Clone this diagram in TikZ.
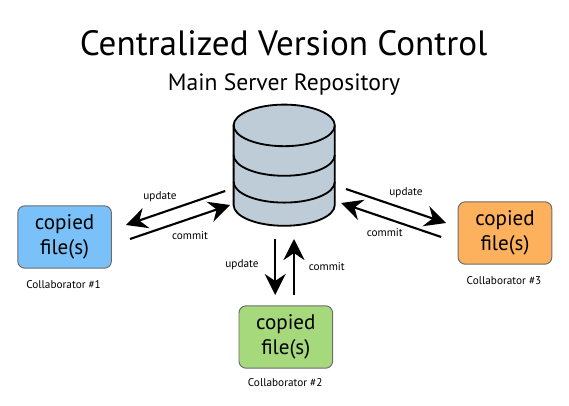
\documentclass[tikz,border=0pt]{standalone}
\usepackage{fontspec}
\setmainfont{PT Sans}
\usetikzlibrary{arrows.meta}
\definecolor{repogray}{RGB}{189,204,214}
\definecolor{fileblue}{RGB}{122,193,250}
\definecolor{filegreen}{RGB}{165,217,124}
\definecolor{fileorange}{RGB}{253,177,93}
\tikzset{
  filebox/.style={draw=gray!85!black, line width=0.7pt, rounded corners=5pt, minimum width=2.34cm, minimum height=1.56cm, align=center, inner sep=0pt, font=\fontsize{15}{18}\selectfont},
  smalllabel/.style={font=\fontsize{8}{10}\selectfont},
  flow/.style={line width=1.5pt, -{Stealth[length=15pt, width=15pt, inset=5pt]}}
}
\begin{document}
\begin{tikzpicture}
  \useasboundingbox (0, 0) rectangle (14.225, 10.125);

  \node[font=\fontsize{25}{30}\selectfont] (title) at (7.09, 9.05) {Centralized Version Control};
  \node[font=\fontsize{16.8}{20}\selectfont] (subtitle) at (7.1, 8.02) {Main Server Repository};

  % Repository
  \draw[line width=1.3pt, fill=repogray] (5.84, 6.99) -- (5.84, 5.0) arc[start angle=180, end angle=360, x radius=1.265, y radius=0.52] -- (8.37, 6.99) arc[start angle=0, end angle=180, x radius=1.265, y radius=0.52] -- cycle;
  \draw[line width=1.3pt] (5.84, 6.99) arc[start angle=180, end angle=360, x radius=1.265, y radius=0.52];
  \draw[line width=1.3pt] (5.84, 6.25) arc[start angle=180, end angle=360, x radius=1.265, y radius=0.52];
  \draw[line width=1.3pt] (5.84, 5.58) arc[start angle=180, end angle=360, x radius=1.265, y radius=0.52];

  % Collaborators
  \node[filebox, fill=fileblue] (fileA) at (1.615, 4.2) {copied\\file(s)};
  \node[filebox, fill=filegreen] (fileB) at (7.145, 1.7) {copied\\file(s)};
  \node[filebox, fill=fileorange] (fileC) at (12.625, 4.3) {copied\\file(s)};
  \node[smalllabel] (nameA) at (1.59, 3.02) {Collaborator \#1};
  \node[smalllabel] (nameB) at (7.13, 0.55) {Collaborator \#2};
  \node[smalllabel] (nameC) at (12.6, 3.12) {Collaborator \#3};

  % Arrows
  \coordinate (updateAfrom) at (5.63, 5.35);
  \coordinate (updateAto) at (3.15, 4.5);
  \coordinate (commitAfrom) at (3.25, 4.15);
  \coordinate (commitAto) at (5.75, 5.0);
  \coordinate (updateBfrom) at (6.88, 4.15);
  \coordinate (updateBto) at (6.88, 2.75);
  \coordinate (commitBfrom) at (7.35, 2.75);
  \coordinate (commitBto) at (7.35, 4.15);
  \coordinate (updateCfrom) at (8.65, 5.4);
  \coordinate (updateCto) at (11.15, 4.55);
  \coordinate (commitCfrom) at (11.03, 4.2);
  \coordinate (commitCto) at (8.53, 5.05);
  \draw[flow] (updateAfrom) -- (updateAto);
  \draw[flow] (commitAfrom) -- (commitAto);
  \draw[flow] (updateBfrom) -- (updateBto);
  \draw[flow] (commitBfrom) -- (commitBto);
  \draw[flow] (updateCfrom) -- (updateCto);
  \draw[flow] (commitCfrom) -- (commitCto);

  \node[smalllabel] (updateA) at (4.0, 5.22) {update};
  \node[smalllabel] (commitA) at (4.75, 4.24) {commit};
  \node[smalllabel] (updateB) at (6.05, 3.5) {update};
  \node[smalllabel] (commitB) at (8.17, 3.47) {commit};
  \node[smalllabel] (updateC) at (10.15, 5.32) {update};
  \node[smalllabel] (commitC) at (9.62, 4.3) {commit};
\end{tikzpicture}
\end{document}
